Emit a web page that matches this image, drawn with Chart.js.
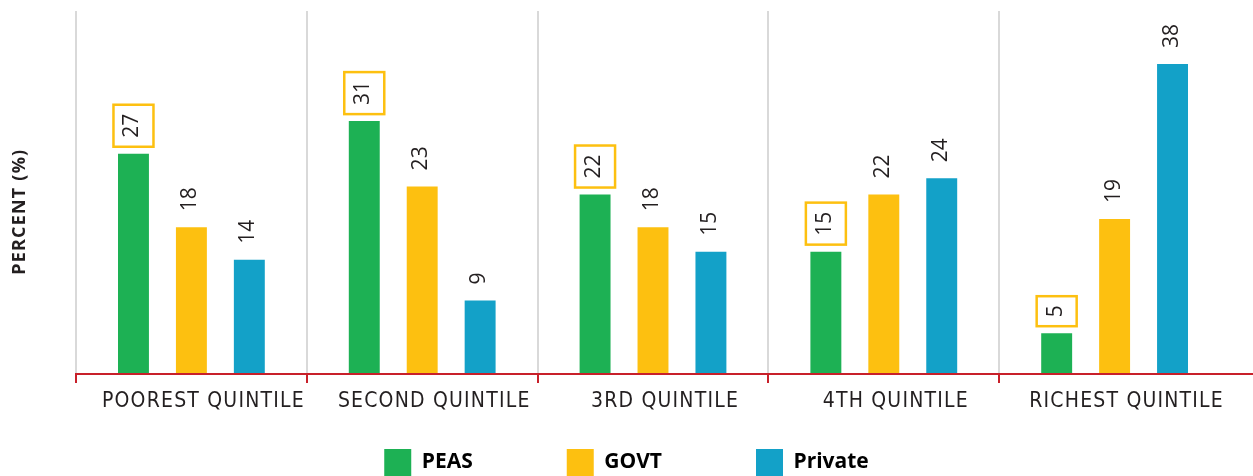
<!DOCTYPE html>
<html><head><meta charset="utf-8">
<script src="https://cdn.jsdelivr.net/npm/chart.js@4.4.1/dist/chart.umd.min.js"></script>
<style>html,body{margin:0;padding:0;background:#fff;overflow:hidden;}</style>
</head><body>
<canvas id="c" width="1253" height="476"></canvas>
<script>
const categories = ['POOREST QUINTILE', 'SECOND QUINTILE', '3RD QUINTILE', '4TH QUINTILE', 'RICHEST QUINTILE'];
const seriesNames = ['PEAS', 'GOVT', 'Private'];
const peasValues = [27, 31, 22, 15, 5];
const govtValues = [18, 23, 18, 22, 19];
const privateValues = [14, 9, 15, 24, 38];
const yTitle = 'PERCENT (%)';

const GREEN = '#1db154', YELLOW = '#fdc010', BLUE = '#13a1c8', RED = '#c8202a', GRID = '#d9d9d9', TEXT = '#231f20';
const EN = '\u2002';

const labelPlugin = {
  id: 'valueLabels',
  beforeDraw(chart) { chart.ctx.letterSpacing = '0px'; },
  afterDatasetsDraw(chart) {
    const ctx = chart.ctx;
    chart.data.datasets.forEach((ds, di) => {
      const meta = chart.getDatasetMeta(di);
      meta.data.forEach((bar, i) => {
        const txt = String(ds.data[i]);
        ctx.save();
        ctx.letterSpacing = '0px';
        ctx.font = '21px "Open Sans"';
        const m = ctx.measureText(txt);
        const w = m.width;
        const cap = m.actualBoundingBoxAscent;
        ctx.translate(bar.x, bar.y - 16);
        ctx.rotate(-Math.PI / 2);
        if (di === 0) {
          ctx.fillStyle = '#fff';
          ctx.fillRect(-9, -20, w + 18, 40);
          ctx.strokeStyle = YELLOW;
          ctx.lineWidth = 2.5;
          ctx.strokeRect(-9, -20, w + 18, 40);
        }
        ctx.fillStyle = TEXT;
        ctx.textAlign = 'left';
        ctx.textBaseline = 'alphabetic';
        ctx.fillText(txt, 0, cap / 2);
        ctx.restore();
      });
    });
    ctx.letterSpacing = '1.2px';
  },
  afterDraw(chart) {
    const ctx = chart.ctx;
    ctx.letterSpacing = '0px';
    const xs = chart.scales.x;
    ctx.save();
    ctx.strokeStyle = RED;
    ctx.lineWidth = 2;
    ctx.beginPath();
    ctx.moveTo(xs.right - 1, Math.round(xs.top - 1) + 1);
    ctx.lineTo(chart.width, Math.round(xs.top - 1) + 1);
    ctx.stroke();
    ctx.restore();
  }
};

const hideLast = (c) => (ctx) => ctx.type === 'tick' ? c : 'rgba(0,0,0,0)';

new Chart(document.getElementById('c'), {
  type: 'bar',
  data: {
    labels: categories,
    datasets: [
      { label: seriesNames[0], data: peasValues, backgroundColor: GREEN },
      { label: seriesNames[1], data: govtValues, backgroundColor: YELLOW },
      { label: seriesNames[2], data: privateValues, backgroundColor: BLUE }
    ]
  },
  options: {
    responsive: false,
    animation: false,
    events: [],
    categoryPercentage: 0.753,
    barPercentage: 0.534,
    layout: { padding: { top: 11, right: 0, bottom: -10, left: 0 } },
    plugins: {
      tooltip: { enabled: false },
      legend: {
        position: 'bottom',
        labels: {
          boxWidth: 27, boxHeight: 27, padding: 10, color: TEXT,
          font: { family: '"Open Sans"', size: 21, weight: 'bold' },
          generateLabels(chart) {
            const n = chart.data.datasets.length;
            return chart.data.datasets.map((ds, i) => ({
              text: ds.label + (i < n - 1 ? EN.repeat(8) : ''),
              fillStyle: ds.backgroundColor,
              strokeStyle: ds.backgroundColor,
              lineWidth: 0,
              hidden: false,
              datasetIndex: i
            }));
          }
        }
      }
    },
    scales: {
      x: {
        afterFit(scale) { scale.height = 65; },
        grid: {
          offset: true, z: -1,
          color: hideLast(GRID), lineWidth: 2,
          drawTicks: true, tickLength: 9, tickColor: hideLast(RED), tickWidth: 2
        },
        border: { display: true, color: RED, width: 2, z: 1 },
        ticks: {
          z: 1, color: TEXT, padding: 6, labelOffset: 12,
          maxRotation: 0, autoSkip: false,
          font: { family: '"Liberation Sans Narrow", "DejaVu Sans Condensed", "Open Sans"', size: 21 }
        }
      },
      y: {
        min: 0, max: 44.5,
        afterFit(scale) { scale.width = 76; },
        grid: { display: false, z: 1 },
        border: { display: false },
        ticks: { display: false },
        title: {
          display: true, text: yTitle + '\u2003\u2003', color: TEXT,
          font: { family: '"Open Sans"', size: 18, weight: 'bold' },
          padding: { top: 9, bottom: 0 }
        }
      },
      yRight: {
        position: 'right', display: true,
        afterFit(scale) { scale.width = 23; },
        grid: { display: false },
        border: { display: false },
        ticks: { display: false }
      }
    }
  },
  plugins: [labelPlugin]
});
</script>
</body></html>
